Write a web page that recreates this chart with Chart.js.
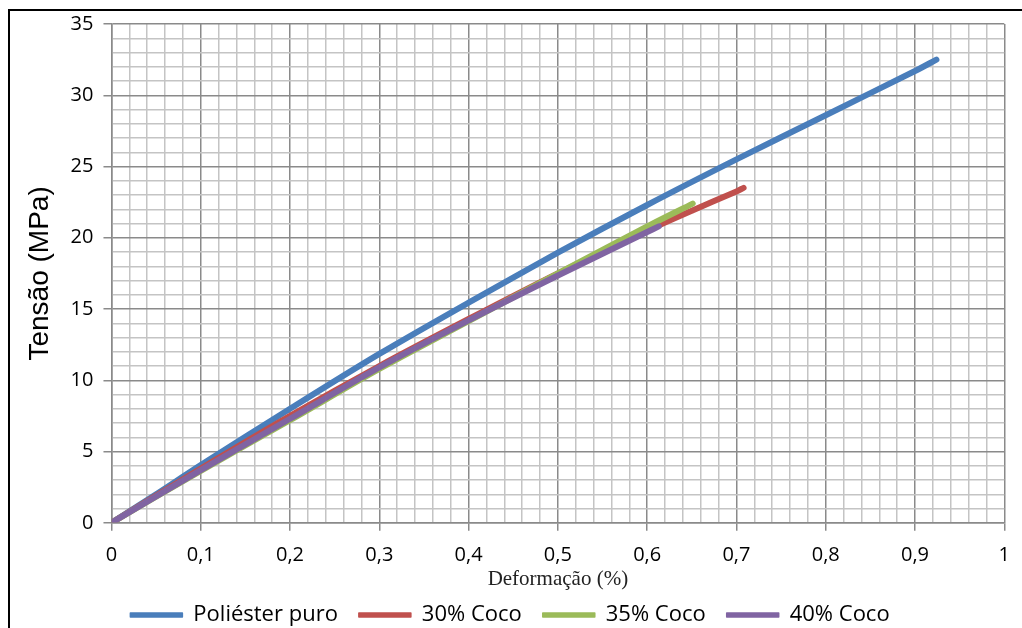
<!DOCTYPE html>
<html>
<head>
<meta charset="utf-8">
<script src="https://cdn.jsdelivr.net/npm/chart.js@4"></script>
<style>
  html, body { margin: 0; padding: 0; background: #fff; }
  #wrap { position: relative; width: 1022px; height: 628px; }
  #frame {
    position: absolute; left: 8px; top: 9px; right: 0; bottom: 0;
    border-top: 2px solid #000; border-left: 2px solid #000;
    pointer-events: none;
  }
</style>
</head>
<body>
<div id="wrap">
  <canvas id="chart" width="1022" height="628"></canvas>
  <div id="frame"></div>
</div>
<script>
// Strain (%) / stress (MPa)
const seriesNames = ["Poliéster puro", "30% Coco", "35% Coco", "40% Coco"];
const seriesColors = ["#4a7ebb", "#c0504d", "#9bbb59", "#8064a2"];

const puroX = [0, 0.05, 0.1, 0.2, 0.3, 0.4, 0.5, 0.6, 0.7, 0.8, 0.9, 0.924];
const puroY = [0, 2.0, 4.05, 8.0, 11.85, 15.45, 18.95, 22.3, 25.5, 28.6, 31.7, 32.5];

const coco30X = [0, 0.1, 0.2, 0.3, 0.4, 0.5, 0.6, 0.65, 0.7, 0.708];
const coco30Y = [0, 3.8, 7.5, 11.0, 14.3, 17.5, 20.5, 21.9, 23.25, 23.5];

const coco35X = [0, 0.1, 0.2, 0.3, 0.4, 0.5, 0.6, 0.651];
const coco35Y = [0, 3.65, 7.2, 10.8, 14.15, 17.5, 20.8, 22.4];

const coco40X = [0, 0.1, 0.2, 0.3, 0.4, 0.5, 0.6, 0.613];
const coco40Y = [0, 3.7, 7.3, 10.9, 14.2, 17.35, 20.4, 20.8];

const xTicks = [0, 0.1, 0.2, 0.3, 0.4, 0.5, 0.6, 0.7, 0.8, 0.9, 1];
const yTicks = [0, 5, 10, 15, 20, 25, 30, 35];

const allX = [puroX, coco30X, coco35X, coco40X];
const allY = [puroY, coco30Y, coco35Y, coco40Y];

const majorGrid = "#8a8a8a";
const minorGrid = "#c4c4c4";

function isMajorX(v) { return Math.round(v * 50) % 5 === 0; }
function isMajorY(v) { return Math.round(v) % 5 === 0; }

const datasets = seriesNames.map((name, i) => ({
  label: name,
  data: allX[i].map((x, j) => ({ x: x, y: allY[i][j] })),
  borderColor: seriesColors[i],
  backgroundColor: seriesColors[i],
  borderWidth: 6,
  borderCapStyle: "round",
  borderJoinStyle: "round",
  pointRadius: 0,
  tension: 0.3,
  fill: false,
  order: seriesNames.length - i
}));

const ctx = document.getElementById("chart").getContext("2d");

new Chart(ctx, {
  type: "line",
  data: { datasets },
  options: {
    responsive: false,
    animation: false,
    layout: { padding: { left: 23, right: 14, top: 24, bottom: -8 } },
    plugins: {
      tooltip: { enabled: false },
      legend: {
        position: "bottom",
        labels: {
          color: "#000",
          font: { family: "Open Sans", size: 22 },
          boxWidth: 52,
          boxHeight: 4,
          padding: 10,
          sort: (a, b) => a.datasetIndex - b.datasetIndex,
          generateLabels: chart => {
            const items = Chart.defaults.plugins.legend.labels.generateLabels(chart);
            items.forEach(it => {
              // trailing space widens the gap between entries without touching the vertical padding
              it.text = it.text + "\u2002";
              it.fillStyle = seriesColors[it.datasetIndex];
              it.strokeStyle = seriesColors[it.datasetIndex];
              it.lineWidth = 1.5;
              it.lineDash = [];
            });
            return items;
          }
        }
      }
    },
    scales: {
      x: {
        type: "linear",
        min: 0,
        max: 1,
        ticks: {
          stepSize: 0.02,
          autoSkip: false,
          maxRotation: 0,
          padding: 12,
          color: "#000",
          font: { family: "Open Sans", size: 20 },
          callback: v => {
            if (!isMajorX(v)) return "";
            const t = xTicks.find(t => Math.abs(t - v) < 1e-6);
            return t === undefined ? "" : String(t).replace(".", ",");
          }
        },
        grid: {
          color: c => isMajorX(c.tick.value) ? majorGrid : minorGrid,
          lineWidth: 1.5,
          tickLength: 8,
          tickColor: c => isMajorX(c.tick.value) ? majorGrid : "rgba(0,0,0,0)"
        },
        border: { color: majorGrid, width: 1.5 },
        title: {
          display: true,
          text: "Deformação (%)",
          color: "#222",
          font: { family: "Liberation Serif", size: 21 },
          padding: { top: -12, bottom: 2 }
        }
      },
      y: {
        min: 0,
        max: 35,
        ticks: {
          stepSize: 1,
          autoSkip: false,
          padding: 10,
          color: "#000",
          font: { family: "Open Sans", size: 20 },
          callback: v => {
            if (!isMajorY(v)) return "";
            const t = yTicks.find(t => Math.abs(t - v) < 1e-6);
            return t === undefined ? "" : String(t);
          }
        },
        grid: {
          color: c => isMajorY(c.tick.value) ? majorGrid : minorGrid,
          lineWidth: 1.5,
          tickLength: 8,
          tickColor: c => isMajorY(c.tick.value) ? majorGrid : "rgba(0,0,0,0)"
        },
        border: { color: majorGrid, width: 1.5 },
        title: {
          display: true,
          text: "Tensão (MPa)",
          color: "#000",
          font: { family: "Liberation Sans", size: 28 },
          padding: { top: 0, bottom: 4 }
        }
      }
    }
  }
});
</script>
</body>
</html>
